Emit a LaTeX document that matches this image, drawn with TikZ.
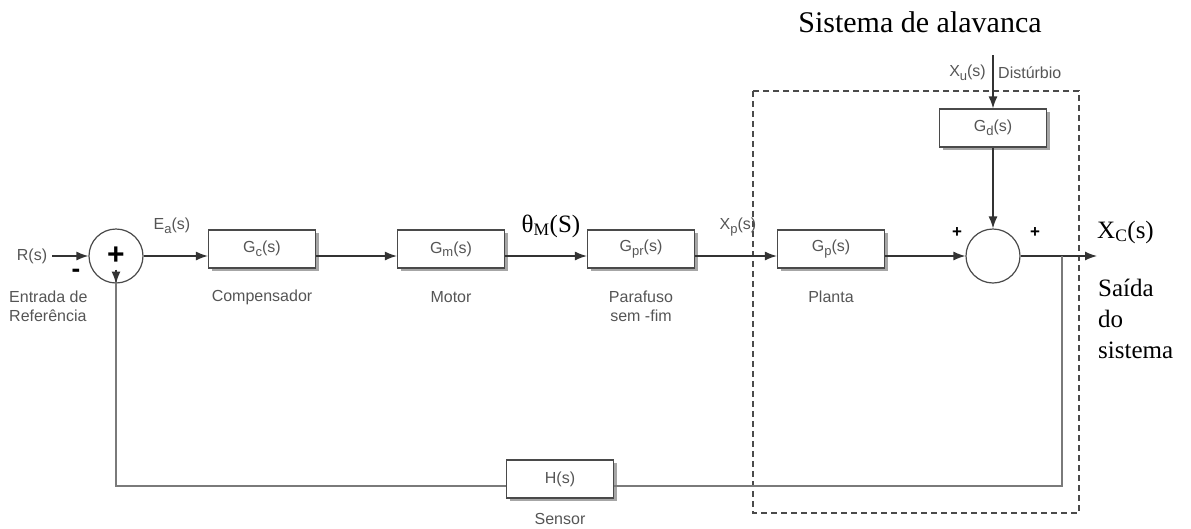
\documentclass[tikz,border=0pt]{standalone}
\usepackage{fontspec}
\setmainfont{Liberation Serif}
\setsansfont{Liberation Sans}
\usetikzlibrary{arrows.meta,shadows}
\definecolor{boxline}{HTML}{4A4A4A}
\definecolor{lbltxt}{HTML}{555555}
\definecolor{sigline}{HTML}{333333}
\definecolor{fbline}{HTML}{7A7A7A}
\newcommand{\lsub}[1]{\raisebox{-3.5pt}{\fontsize{13}{13}\selectfont #1}}
\begin{document}
\begin{tikzpicture}[x=1pt,y=-1pt,
  blk/.style={draw=boxline, line width=1.2pt, fill=white, minimum width=107pt, minimum height=38pt, inner sep=0pt,
    font=\sffamily\fontsize{16}{18}\selectfont, text=lbltxt,
    drop shadow={shadow xshift=3pt, shadow yshift=-3pt, fill=gray!70, opacity=1}},
  sumc/.style={circle, draw=boxline, line width=1.2pt, fill=white, minimum size=54pt, inner sep=0pt},
  sig/.style={draw=sigline, line width=1.3pt, -{Latex[length=12pt,width=9pt]}},
  fb/.style={draw=fbline, line width=1.6pt},
  slbl/.style={font=\sffamily\fontsize{16}{19}\selectfont, text=lbltxt, inner sep=1pt, align=center},
  rlbl/.style={font=\fontsize{25}{30}\selectfont, inner sep=0pt},
  sgn/.style={font=\sffamily\bfseries\fontsize{17}{17}\selectfont, inner sep=0pt}
]
\useasboundingbox (0,0) rectangle (1191,528);

% dashed group
\draw[boxline, line width=1.2pt, dash pattern=on 6pt off 4pt] (753,91) rectangle (1079,513);
\node[font=\fontsize{30}{36}\selectfont, inner sep=0pt] (title) at (920,22) {Sistema de alavanca};

% summing junctions
\node[sumc] (s1) at (116,256) {\sffamily\bfseries\fontsize{30}{30}\selectfont +};
\node[sumc] (s2) at (993,256) {};

% blocks
\node[blk] (Gc) at (262,249) {G\lsub{c}(s)};
\node[blk] (Gm) at (451,249) {G\lsub{m}(s)};
\node[blk] (Gpr) at (641,249) {G\lsub{pr}(s)};
\node[blk] (Gp) at (831,249) {G\lsub{p}(s)};
\node[blk] (Gd) at (993,128) {G\lsub{d}(s)};
\node[blk] (H) at (560,479) {H(s)};

% labels
\node[slbl] (R) at (32,256) {R(s)};
\node[sgn, font=\sffamily\bfseries\fontsize{26}{26}\selectfont] (minus) at (76,273) {-};
\node[slbl, align=left, anchor=west] (entr) at (8,306) {Entrada de\\Referência};
\node[slbl] (Ea) at (172,226) {E\lsub{a}(s)};
\node[slbl] (cmp) at (262,297) {Compensador};
\node[slbl] (mot) at (451,297) {Motor};
\node[slbl] (par) at (641,306) {Parafuso\\sem -fim};
\node[slbl] (Xp) at (738,227) {X\lsub{p}(s)};
\node[rlbl] (th) at (551,226) {θ\textsubscript{M}(S)};
\node[slbl] (pla) at (831,297) {Planta};
\node[slbl] (sen) at (560,519) {Sensor};
\node[slbl, anchor=east] (Xu) at (987,73) {X\lsub{u}(s)};
\node[slbl, anchor=west] (dist) at (997,73) {Distúrbio};
\node[sgn] (pl1) at (957,233) {+};
\node[sgn] (pl2) at (1035,233) {+};
\node[rlbl, anchor=west] (Xc) at (1097,232) {X\textsubscript{C}(s)};
\node[rlbl, anchor=north west, align=left, font=\fontsize{25}{31}\selectfont] (said) at (1098,279) {Saída\\do\\sistema};

% coordinates
\coordinate (rin) at (52,256);
\coordinate (dtop) at (993,55);
\coordinate (br) at (1062,256);
\coordinate (out) at (1097,256);
\coordinate (fbR) at (1062,486);
\coordinate (fbL) at (116,486);

% forward path
\draw[sig] (rin) -- (s1.west);
\draw[sig] (s1.east) -- (Gc.west |- s1.east);
\draw[sig] (Gc.east |- s1.east) -- (Gm.west |- s1.east);
\draw[sig] (Gm.east |- s1.east) -- (Gpr.west |- s1.east);
\draw[sig] (Gpr.east |- s1.east) -- (Gp.west |- s1.east);
\draw[sig] (Gp.east |- s2.west) -- (s2.west);
\draw[sig] (s2.east) -- (out);
\draw[sig] (dtop) -- (Gd.north);
\draw[sig] (Gd.south) -- (s2.north);

% feedback
\draw[fb] (br) -- (fbR) -- (H.east |- fbR);
\draw[fb] (H.west |- fbR) -- (fbL) -- ([yshift=14pt]s1.south);
\draw[sig] ([yshift=14pt]s1.south) -- (s1.south);
\end{tikzpicture}
\end{document}
